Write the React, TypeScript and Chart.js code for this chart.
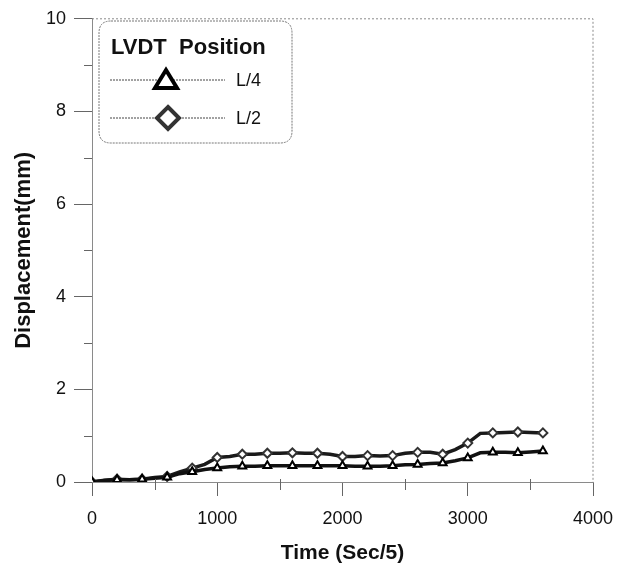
import React, { useEffect, useRef } from "react";
import { Chart, registerables } from "chart.js";

Chart.register(...registerables);

const timeSteps = [0, 100, 200, 300, 400, 500, 600, 700, 800, 900, 1000, 1100, 1200, 1300, 1400, 1500, 1600, 1700, 1800, 1900, 2000, 2100, 2200, 2300, 2400, 2500, 2600, 2700, 2800, 2900, 3000, 3100, 3200, 3300, 3400, 3500, 3600];
const quarterSpan = [0, 0.03, 0.05, 0.05, 0.06, 0.08, 0.1, 0.18, 0.22, 0.27, 0.3, 0.33, 0.34, 0.34, 0.35, 0.35, 0.35, 0.35, 0.35, 0.35, 0.35, 0.34, 0.34, 0.34, 0.35, 0.37, 0.38, 0.4, 0.41, 0.46, 0.52, 0.63, 0.64, 0.64, 0.63, 0.65, 0.67];
const midSpan = [0, 0.04, 0.06, 0.05, 0.06, 0.1, 0.12, 0.22, 0.3, 0.38, 0.53, 0.55, 0.6, 0.6, 0.62, 0.62, 0.63, 0.62, 0.62, 0.6, 0.55, 0.55, 0.57, 0.56, 0.57, 0.62, 0.64, 0.64, 0.6, 0.7, 0.84, 1.05, 1.06, 1.07, 1.08, 1.07, 1.06];
const seriesLabels = ["L/4", "L/2"];
const legendTitle = "LVDT  Position";
const xTitle = "Time (Sec/5)";
const yTitle = "Displacement(mm)";

const FONT = "Arial, 'Liberation Sans', sans-serif";

const framePlugin = {
  id: "frame",
  afterDraw(chart: any) {
    const { ctx, chartArea: a, scales } = chart;
    const xs = scales.x;
    const ys = scales.y;
    ctx.save();
    ctx.strokeStyle = "#8a8a8a";
    ctx.lineWidth = 1;
    ctx.setLineDash([2, 2]);
    ctx.beginPath();
    ctx.moveTo(a.left, a.top);
    ctx.lineTo(a.right, a.top);
    ctx.lineTo(a.right, a.bottom);
    ctx.stroke();
    ctx.setLineDash([]);
    // minor ticks
    ctx.strokeStyle = "#666";
    ctx.lineWidth = 1;
    ctx.beginPath();
    for (let v = 1; v < 10; v += 2) {
      const py = Math.round(ys.getPixelForValue(v)) + 0.5;
      ctx.moveTo(a.left - 8, py);
      ctx.lineTo(a.left, py);
    }
    for (let v = 500; v < 4000; v += 1000) {
      const px = Math.round(xs.getPixelForValue(v)) + 0.5;
      ctx.moveTo(px, a.bottom - 3);
      ctx.lineTo(px, a.bottom + 8);
    }
    ctx.stroke();

    // legend box
    const bx = 99, by = 21, bw = 193, bh = 122, r = 12;
    ctx.fillStyle = "#fff";
    ctx.strokeStyle = "#777";
    ctx.setLineDash([2, 1]);
    ctx.beginPath();
    ctx.moveTo(bx + r, by);
    ctx.lineTo(bx + bw - r, by);
    ctx.quadraticCurveTo(bx + bw, by, bx + bw, by + r);
    ctx.lineTo(bx + bw, by + bh - r);
    ctx.quadraticCurveTo(bx + bw, by + bh, bx + bw - r, by + bh);
    ctx.lineTo(bx + r, by + bh);
    ctx.quadraticCurveTo(bx, by + bh, bx, by + bh - r);
    ctx.lineTo(bx, by + r);
    ctx.quadraticCurveTo(bx, by, bx + r, by);
    ctx.closePath();
    ctx.fill();
    ctx.stroke();
    ctx.setLineDash([]);

    ctx.fillStyle = "#111";
    ctx.font = `bold 22px ${FONT}`;
    ctx.textBaseline = "middle";
    ctx.textAlign = "left";
    ctx.fillText(legendTitle, 111, 48);

    const rows = [80, 118];
    rows.forEach((yy, i) => {
      ctx.strokeStyle = "#444";
      ctx.lineWidth = 1;
      ctx.setLineDash([2, 1]);
      ctx.beginPath();
      ctx.moveTo(110, yy);
      ctx.lineTo(225, yy);
      ctx.stroke();
      ctx.setLineDash([]);
      ctx.fillStyle = "#fff";
      ctx.lineWidth = 4;
      ctx.strokeStyle = i === 0 ? "#000" : "#333";
      ctx.beginPath();
      if (i === 0) {
        ctx.moveTo(166, yy - 10);
        ctx.lineTo(177, yy + 8);
        ctx.lineTo(155, yy + 8);
      } else {
        ctx.moveTo(168, yy - 11);
        ctx.lineTo(179, yy);
        ctx.lineTo(168, yy + 11);
        ctx.lineTo(157, yy);
      }
      ctx.closePath();
      ctx.fill();
      ctx.stroke();
      ctx.fillStyle = "#111";
      ctx.font = `18px ${FONT}`;
      ctx.fillText(seriesLabels[i], 236, yy + 1);
    });
    ctx.restore();
  },
};

export default function App() {
  const ref = useRef<HTMLCanvasElement>(null);
  useEffect(() => {
    if (!ref.current) return;
    const markerR = (c: any) => (c.raw && c.raw.x % 200 === 0 ? 4.5 : 0);
    const chart = new Chart(ref.current, {
      type: "line",
      data: {
        datasets: [
          {
            label: seriesLabels[0],
            data: timeSteps.map((t, i) => ({ x: t, y: quarterSpan[i] })),
            borderColor: "#111",
            borderWidth: 3.5,
            pointStyle: "triangle",
            pointRadius: markerR,
            pointBorderWidth: 2,
            pointBorderColor: "#000",
            pointBackgroundColor: "#fff",
            tension: 0,
          },
          {
            label: seriesLabels[1],
            data: timeSteps.map((t, i) => ({ x: t, y: midSpan[i] })),
            borderColor: "#1a1a1a",
            borderWidth: 3.5,
            pointStyle: "rectRot",
            pointRadius: markerR,
            pointBorderWidth: 2,
            pointBorderColor: "#333",
            pointBackgroundColor: "#fff",
            tension: 0,
          },
        ],
      },
      options: {
        animation: false,
        responsive: false,
        maintainAspectRatio: false,
        layout: { padding: { left: 0, top: 13, right: 36, bottom: 0 } },
        plugins: { legend: { display: false }, tooltip: { enabled: false } },
        scales: {
          x: {
            type: "linear",
            min: 0,
            max: 4000,
            afterFit: (s: any) => {
              s.height = 89;
            },
            ticks: {
              stepSize: 1000,
              color: "#111",
              font: { family: FONT, size: 18 },
              padding: 12,
              maxRotation: 0,
              callback: (v: any) => String(v),
            },
            grid: { drawOnChartArea: false, drawTicks: true, tickLength: 14, color: "#666" },
            border: { display: true, color: "#8a8a8a", dash: [2, 2] },
            title: {
              display: true,
              text: xTitle,
              color: "#111",
              font: { family: FONT, size: 21, weight: "bold" },
              padding: { top: 0, bottom: 5 },
            },
          },
          y: {
            type: "linear",
            min: 0,
            max: 10,
            afterFit: (s: any) => {
              s.width = 92;
            },
            ticks: {
              stepSize: 2,
              color: "#111",
              font: { family: FONT, size: 18 },
              padding: 8,
            },
            grid: { drawOnChartArea: false, drawTicks: true, tickLength: 18, color: "#666" },
            border: { display: true, color: "#8a8a8a", dash: [2, 2] },
            title: {
              display: true,
              text: yTitle,
              color: "#111",
              font: { family: FONT, size: 22, weight: "bold" },
              padding: { top: 11, bottom: 0 },
            },
          },
        },
      },
      plugins: [framePlugin],
    });
    return () => chart.destroy();
  }, []);
  return (
    <div style={{ position: "fixed", left: 0, top: 0, width: 629, height: 571, background: "#fff" }}>
      <canvas ref={ref} width={629} height={571} style={{ width: 629, height: 571 }} />
    </div>
  );
}
